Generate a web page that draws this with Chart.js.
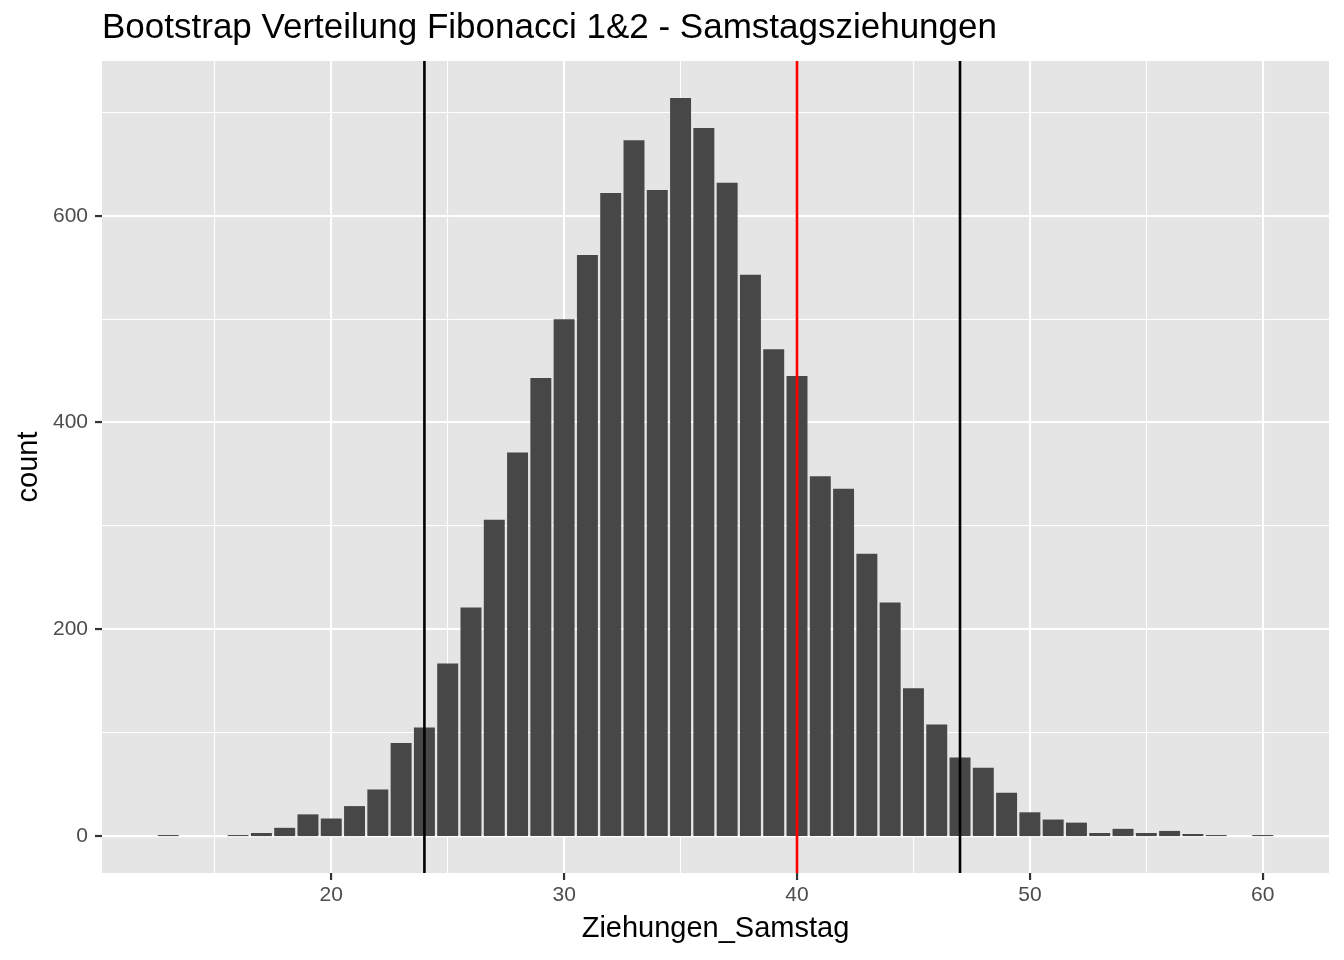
<!DOCTYPE html>
<html>
<head>
<meta charset="utf-8">
<title>Bootstrap Verteilung Fibonacci 1&amp;2 - Samstagsziehungen</title>
<script src="https://cdn.jsdelivr.net/npm/chart.js@4.4.1/dist/chart.umd.min.js"></script>
<style>
    html, body { margin: 0; padding: 0; background: #ffffff; }
    canvas { display: block; }
</style>
</head>
<body>
<canvas id="bootChart" width="1344" height="960"></canvas>
<script>
// Ziehungen (x) and how often each came up in the bootstrap samples
const ziehungen = [13, 14, 15, 16, 17, 18, 19, 20, 21, 22, 23, 24, 25, 26, 27, 28, 29, 30,
    31, 32, 33, 34, 35, 36, 37, 38, 39, 40, 41, 42, 43, 44, 45, 46, 47, 48, 49, 50,
    51, 52, 53, 54, 55, 56, 57, 58, 59, 60];
const counts = [1, 0, 0, 1, 3, 8, 21, 17, 29, 45, 90, 105, 167, 221, 306, 371, 443, 500,
    562, 622, 673, 625, 714, 685, 632, 543, 471, 445, 348, 336, 273, 226, 143, 108, 76, 66, 42, 23,
    16, 13, 3, 7, 3, 5, 2, 1, 0, 1];

// quantile lines (black) and observed value (red)
const quantile_lines = [24, 47];
const observed_line = 40;

// axis limits as ggplot expands them
const xLimits = [10.155, 62.845];
const yLimits = [-35.7, 749.7];

const fontFamily = '"Liberation Sans", Arial, Helvetica, sans-serif';
const majorGrid = 2.1;
const minorGrid = 1.05;

const vline = (x, color) => ({
    type: 'line',
    data: [{x: x, y: yLimits[0]}, {x: x, y: yLimits[1]}],
    borderColor: color,
    borderWidth: 2.6,
    pointRadius: 0,
    fill: false,
    order: 1
});

// grey panel, plus the zero grid line drawn by hand so Chart.js
// does not shrink the bars away from it
const panelBackground = {
    id: 'panelBackground',
    beforeDraw(chart) {
        const {ctx, chartArea} = chart;
        ctx.save();
        ctx.fillStyle = '#ffffff';
        ctx.fillRect(0, 0, chart.width, chart.height);
        ctx.fillStyle = '#e5e5e5';
        ctx.fillRect(chartArea.left, chartArea.top, chartArea.width, chartArea.height);
        ctx.restore();
    },
    beforeDatasetsDraw(chart) {
        const {ctx, chartArea, scales} = chart;
        const y0 = scales.y.getPixelForValue(0);
        ctx.save();
        ctx.strokeStyle = '#ffffff';
        ctx.lineWidth = majorGrid;
        ctx.beginPath();
        ctx.moveTo(chartArea.left, y0);
        ctx.lineTo(chartArea.right, y0);
        ctx.stroke();
        ctx.restore();
    }
};

const ctx = document.getElementById('bootChart').getContext('2d');
new Chart(ctx, {
    type: 'bar',
    data: {
        datasets: [
            {
                type: 'bar',
                data: ziehungen.map((z, i) => ({x: z, y: counts[i]})),
                backgroundColor: '#474747',
                borderWidth: 0,
                barPercentage: 0.9,
                categoryPercentage: 1.0,
                order: 2
            },
            ...quantile_lines.map(x => vline(x, '#000000')),
            vline(observed_line, '#ff0000')
        ]
    },
    options: {
        responsive: false,
        animation: false,
        events: [],
        layout: {
            padding: {left: 0, right: 15, top: 0, bottom: 0}
        },
        scales: {
            x: {
                type: 'linear',
                min: xLimits[0],
                max: xLimits[1],
                offset: false,
                afterFit: (scale) => { scale.height = 87; },
                border: {display: false},
                grid: {
                    offset: false,
                    color: '#ffffff',
                    lineWidth: (c) => (c.tick && c.tick.value % 10 === 0) ? majorGrid : minorGrid,
                    tickLength: 7,
                    tickWidth: 2.2,
                    tickColor: (c) => (c.tick && c.tick.value % 10 === 0) ? '#333333' : 'rgba(0,0,0,0)'
                },
                ticks: {
                    stepSize: 5,
                    includeBounds: false,
                    autoSkip: false,
                    maxRotation: 0,
                    padding: 3,
                    color: '#4d4d4d',
                    font: {family: fontFamily, size: 21},
                    callback: (v) => v % 10 === 0 ? String(v) : ''
                },
                title: {
                    display: true,
                    text: 'Ziehungen_Samstag',
                    color: '#000000',
                    font: {family: fontFamily, size: 29},
                    padding: {top: 0, bottom: 14}
                }
            },
            y: {
                type: 'linear',
                min: yLimits[0],
                max: yLimits[1],
                afterFit: (scale) => { scale.width = 102; },
                border: {display: false},
                grid: {
                    color: (c) => (c.tick && c.tick.value === 0) ? 'rgba(0,0,0,0)' : '#ffffff',
                    lineWidth: (c) => {
                        if (!c.tick) return minorGrid;
                        if (c.tick.value === 0) return 0;
                        return c.tick.value % 200 === 0 ? majorGrid : minorGrid;
                    },
                    tickLength: 7,
                    tickWidth: 2.2,
                    tickColor: (c) => (c.tick && c.tick.value % 200 === 0) ? '#333333' : 'rgba(0,0,0,0)'
                },
                ticks: {
                    stepSize: 100,
                    includeBounds: false,
                    autoSkip: false,
                    padding: 7,
                    color: '#4d4d4d',
                    font: {family: fontFamily, size: 21},
                    callback: (v) => v % 200 === 0 ? String(v) : ''
                },
                title: {
                    display: true,
                    text: 'count',
                    color: '#000000',
                    font: {family: fontFamily, size: 29},
                    padding: {top: 12, bottom: 0}
                }
            }
        },
        plugins: {
            legend: {display: false},
            tooltip: {enabled: false},
            title: {
                display: true,
                text: 'Bootstrap Verteilung Fibonacci 1&2 - Samstagsziehungen',
                align: 'start',
                fullSize: false,
                color: '#000000',
                font: {family: fontFamily, size: 35, weight: 'normal'},
                padding: {top: 7, bottom: 12}
            }
        }
    },
    plugins: [panelBackground]
});
</script>
</body>
</html>
